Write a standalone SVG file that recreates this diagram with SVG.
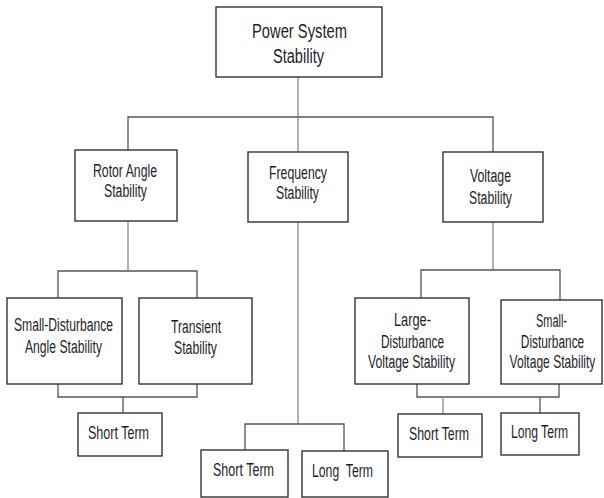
<svg xmlns="http://www.w3.org/2000/svg" width="604" height="498" viewBox="0 0 604 498">
<style>
.box{fill:#fff;stroke:#333;stroke-width:1.4}
.c{fill:none;stroke:#555;stroke-width:1.3}
.cl{fill:none;stroke:#8a8a8a;stroke-width:1.3}
text{font-family:"Liberation Sans",Arial,sans-serif;font-size:18px;fill:#1e1e28;white-space:pre}
.big{font-size:20px}
.mid{text-anchor:middle}
</style>
<rect width="604" height="498" fill="#fff"/>
<g id="connectors">
<path class="cl" d="M298 77V117"/>
<path class="c" d="M128 150V117H493V152"/>
<path class="cl" d="M298 117V152"/>
<path class="cl" d="M128 221V271"/>
<path class="c" d="M58 298V271H197V298"/>
<path class="cl" d="M298 222V424"/>
<path class="c" d="M245 450V424H344V451"/>
<path class="cl" d="M493 222V270"/>
<path class="c" d="M421 298V270H560V300"/>
<path class="c" d="M58 384V397H197V384"/>
<path class="c" d="M123 397V413"/>
<path class="c" d="M417 384V397H559V384"/>
<path class="cl" d="M443 397V414"/>
<path class="c" d="M540 397V413"/>
</g>
<g id="power-system-stability">
<rect class="box" x="216" y="7" width="166" height="70"/>
<text class="big" x="252" y="38" textLength="95" lengthAdjust="spacingAndGlyphs">Power System</text>
<text class="big" x="273" y="63" textLength="51" lengthAdjust="spacingAndGlyphs">Stability</text>
</g>
<g id="rotor-angle-stability">
<rect class="box" x="75" y="150" width="102" height="71"/>
<text x="93" y="177" textLength="64" lengthAdjust="spacingAndGlyphs">Rotor Angle</text>
<text x="104" y="197" textLength="43" lengthAdjust="spacingAndGlyphs">Stability</text>
</g>
<g id="frequency-stability">
<rect class="box" x="248" y="152" width="100" height="70"/>
<text x="269" y="179" textLength="58" lengthAdjust="spacingAndGlyphs">Frequency</text>
<text x="276" y="199" textLength="43" lengthAdjust="spacingAndGlyphs">Stability</text>
</g>
<g id="voltage-stability">
<rect class="box" x="443" y="152" width="100" height="70"/>
<text x="470" y="182" textLength="41" lengthAdjust="spacingAndGlyphs">Voltage</text>
<text x="469" y="204" textLength="43" lengthAdjust="spacingAndGlyphs">Stability</text>
</g>
<g id="small-disturbance-angle-stability">
<rect class="box" x="7" y="298" width="115" height="86"/>
<text x="14" y="331" textLength="99" lengthAdjust="spacingAndGlyphs">Small-Disturbance</text>
<text x="25" y="353" textLength="77" lengthAdjust="spacingAndGlyphs">Angle Stability</text>
</g>
<g id="transient-stability">
<rect class="box" x="139" y="298" width="113" height="86"/>
<text x="171" y="333" textLength="50" lengthAdjust="spacingAndGlyphs">Transient</text>
<text x="174" y="354" textLength="43" lengthAdjust="spacingAndGlyphs">Stability</text>
</g>
<g id="angle-short-term">
<rect class="box" x="78" y="413" width="84" height="43"/>
<text x="88" y="439" textLength="61" lengthAdjust="spacingAndGlyphs">Short Term</text>
</g>
<g id="frequency-short-term">
<rect class="box" x="201" y="450" width="87" height="47"/>
<text x="213" y="476" textLength="61" lengthAdjust="spacingAndGlyphs">Short Term</text>
</g>
<g id="frequency-long-term">
<rect class="box" x="302" y="451" width="86" height="46"/>
<text x="312" y="477" textLength="61" lengthAdjust="spacingAndGlyphs">Long  Term</text>
</g>
<g id="large-disturbance-voltage-stability">
<rect class="box" x="355" y="298" width="114" height="86"/>
<text x="394" y="326" textLength="37" lengthAdjust="spacingAndGlyphs">Large-</text>
<text x="381" y="348" textLength="63" lengthAdjust="spacingAndGlyphs">Disturbance</text>
<text x="368" y="368" textLength="87" lengthAdjust="spacingAndGlyphs">Voltage Stability</text>
</g>
<g id="small-disturbance-voltage-stability">
<rect class="box" x="501" y="300" width="101" height="84"/>
<text x="536" y="327" textLength="31" lengthAdjust="spacingAndGlyphs">Small-</text>
<text class="mid" transform="translate(552.5 348) scale(0.66 1)">Disturbance</text>
<text class="mid" transform="translate(552.5 368) scale(0.67 1)">Voltage Stability</text>
</g>
<g id="voltage-short-term">
<rect class="box" x="398" y="414" width="84" height="43"/>
<text x="409" y="440" textLength="60" lengthAdjust="spacingAndGlyphs">Short Term</text>
</g>
<g id="voltage-long-term">
<rect class="box" x="501" y="413" width="78" height="42"/>
<text x="511" y="438" textLength="57" lengthAdjust="spacingAndGlyphs">Long Term</text>
</g>
</svg>
